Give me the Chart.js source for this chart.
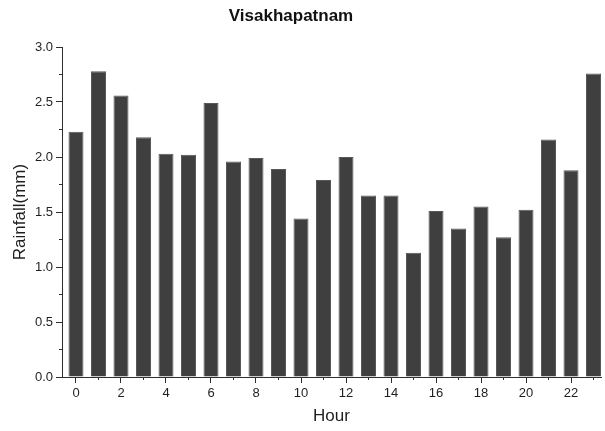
<!DOCTYPE html>
<html>
<head>
<meta charset="utf-8">
<title>Visakhapatnam hourly rainfall</title>
<script src="https://cdn.jsdelivr.net/npm/chart.js@4/dist/chart.umd.min.js"></script>
<style>
  html, body { margin: 0; padding: 0; background: #ffffff; }
  #wrap { width: 605px; height: 431px; position: relative; }
</style>
</head>
<body>
<div id="wrap"><canvas id="chart"></canvas></div>
<script>
// Mean rainfall per hour of day
const chartTitle = 'Visakhapatnam';
const hours = [0, 1, 2, 3, 4, 5, 6, 7, 8, 9, 10, 11, 12, 13, 14, 15, 16, 17, 18, 19, 20, 21, 22, 23];
const rainfall = [2.23, 2.78, 2.56, 2.18, 2.03, 2.02, 2.49, 1.96, 1.99, 1.89, 1.44, 1.79,
                  2.00, 1.65, 1.65, 1.13, 1.51, 1.35, 1.55, 1.27, 1.52, 2.16, 1.88, 2.76];
const xAxisTitle = 'Hour';
const yAxisTitle = 'Rainfall(mm)';

const FONT = '"Liberation Sans", Arial, Helvetica, sans-serif';
const INK = '#1e1e1e';
const AXIS = '#2e2e2e';

// Bold chart heading drawn above the plot
const headingPlugin = {
  id: 'heading',
  afterDraw(chart) {
    const ctx = chart.ctx;
    ctx.save();
    ctx.font = 'bold 17px ' + FONT;
    ctx.fillStyle = '#111111';
    ctx.textAlign = 'center';
    ctx.textBaseline = 'middle';
    ctx.fillText(chartTitle, 291, 16);
    ctx.restore();
  }
};

const points = hours.map((h, i) => ({ x: h, y: rainfall[i] }));

new Chart(document.getElementById('chart'), {
  type: 'bar',
  data: {
    datasets: [{
      label: yAxisTitle,
      data: points,
      backgroundColor: '#3f3f3f',
      borderColor: '#585858',
      borderWidth: 1,
      categoryPercentage: 1,
      barPercentage: 0.667,
      xAxisID: 'x',
      yAxisID: 'y'
    }]
  },
  options: {
    responsive: true,
    maintainAspectRatio: false,
    animation: false,
    layout: { padding: { top: 47, right: 4, bottom: 0, left: 0 } },
    plugins: {
      legend: { display: false },
      tooltip: { enabled: false },
      title: { display: false }
    },
    scales: {
      x: {
        type: 'linear',
        position: 'bottom',
        weight: 1,
        min: -0.622,
        max: 23.333,
        offset: false,
        grid: { display: true, drawOnChartArea: false, offset: false, tickLength: 6, tickColor: AXIS, tickWidth: 1 },
        border: { display: true, color: AXIS, width: 1 },
        ticks: {
          stepSize: 2,
          includeBounds: false,
          padding: 3,
          color: INK,
          font: { family: FONT, size: 13 },
          maxRotation: 0,
          autoSkip: false,
          callback: v => String(v)
        },
        title: {
          display: true,
          text: xAxisTitle,
          color: INK,
          font: { family: FONT, size: 17 },
          padding: { top: 0, bottom: 4 }
        },
        afterFit: s => { s.height = 54; }
      },
      xMinor: {
        type: 'linear',
        position: 'bottom',
        weight: 0,
        min: -0.622,
        max: 23.333,
        offset: false,
        grid: { display: true, drawOnChartArea: false, offset: false, tickLength: 3, tickColor: AXIS, tickWidth: 1 },
        border: { display: false },
        ticks: { display: false, stepSize: 1, includeBounds: false },
        afterFit: s => { s.height = 0; }
      },
      y: {
        type: 'linear',
        position: 'left',
        weight: 1,
        min: 0,
        max: 3,
        grid: { display: true, drawOnChartArea: false, tickLength: 6, tickColor: AXIS, tickWidth: 1 },
        border: { display: true, color: AXIS, width: 1 },
        ticks: {
          stepSize: 0.5,
          padding: 3,
          color: INK,
          font: { family: FONT, size: 13 },
          callback: v => Number(v).toFixed(1)
        },
        title: {
          display: true,
          text: yAxisTitle,
          color: INK,
          font: { family: FONT, size: 17 },
          padding: { top: 10, bottom: 0 }
        },
        afterFit: s => { s.width = 62; }
      },
      yMinor: {
        type: 'linear',
        position: 'left',
        weight: 0,
        min: 0,
        max: 3,
        grid: { display: true, drawOnChartArea: false, tickLength: 3, tickColor: AXIS, tickWidth: 1 },
        border: { display: false },
        ticks: { display: false, stepSize: 0.25 },
        afterFit: s => { s.width = 0; }
      }
    }
  },
  plugins: [headingPlugin]
});
</script>
</body>
</html>
